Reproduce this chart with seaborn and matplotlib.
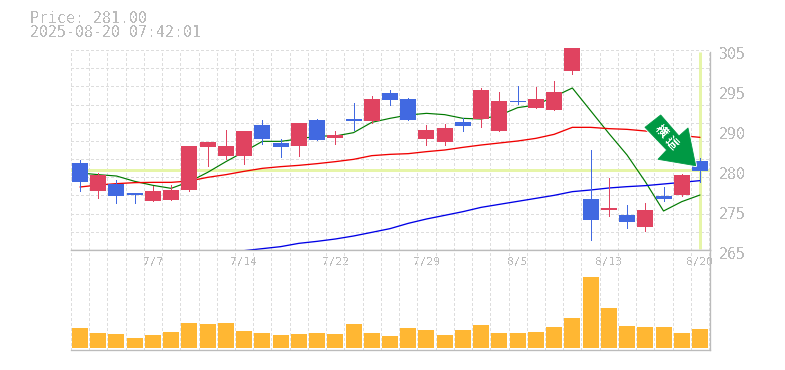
import numpy as np
import pandas as pd
import seaborn as sns
import matplotlib
matplotlib.use("Agg")
import matplotlib.pyplot as plt
from matplotlib.patches import Polygon
from matplotlib.transforms import ScaledTranslation, Affine2D

W, H = 785, 370
FONT = "DejaVu Sans Mono"
GREY = "#bbbbbb"
GRID = "#dddddd"
UP = "#e04360"
DOWN = "#4169e1"


def p(v):
    return [round(307 - a / 15, 2) if a is not None else np.nan for a in v]


# Price series
opens = p([369, 453, 432, 459, 483, 480, 450, 321, 348, 348, 255, 309, 318, 240, 294, 237, 243,
           159, 177, 297, 306, 246, 237, 273, 183, 204, 210, 93, 477, 510, 525, 561, 468, 465, 363])
closes = p([426, 405, 468, 465, 453, 450, 318, 306, 318, 273, 297, 321, 249, 300, 285, 243, 177,
            180, 240, 270, 264, 258, 150, 183, 186, 177, 156, -60, 540, 504, 546, 510, 477, 405, 393])
highs = p([360, 399, 420, 459, 438, 435, 318, 306, 270, 273, 240, 297, 249, 237, 273, 189, 168,
           150, 174, 255, 252, 234, 144, 156, 138, 141, 123, -60, 330, 414, 495, 489, 441, 402, 354])
lows = p([453, 474, 489, 489, 483, 480, 453, 378, 358, 372, 312, 351, 348, 300, 312, 270, 250,
          195, 240, 315, 315, 273, 261, 273, 192, 204, 210, 102, 600, 528, 564, 573, 483, 468, 426])
ma_short = p([399, 404, 408, 424, 436, 445, 425, 397, 365, 335, 304, 304, 297, 288, 288, 278, 247, 235,
              225, 220, 224, 235, 237, 226, 203, 195, 170, 144, 212, 280, 345, 425, 513, 485, 465])
ma_mid = p([441, 435, 431, 428, 427, 427, 423, 412, 404, 394, 385, 380, 376, 371, 365, 358, 347, 343,
            341, 335, 330, 322, 315, 309, 303, 295, 283, 262, 262, 266, 268, 273, 280, 287, 292])
ma_long = p([None] * 9 + [632, 626, 620, 610, 604, 597, 588, 577, 566,
                          550, 537, 526, 515, 502, 493, 484, 475, 466, 455, 450, 444, 440, 437, 432, 427, 422])
volumes = [20, 15, 14, 10, 13, 16, 25, 24, 25, 17, 15, 13, 14, 15, 14, 24, 15, 12,
           20, 18, 13, 18, 23, 15, 15, 16, 21, 30, 71, 40, 22, 21, 21, 15, 19]
last_price = 281.0
ytick_values = [305, 297, 289, 281, 273, 265]
ytick_labels = ["305", "295", "290", "280", "275", "265"]
xtick_positions = [4, 9, 14, 19, 24, 29, 34]
xtick_labels = ["7/7", "7/14", "7/22", "7/29", "8/5", "8/13", "8/20"]
title_lines = ["Price: 281.00", "2025-08-20 07:42:01"]
arrow_text = "横這"

sns.set_theme(style="white")
plt.rcParams["font.family"] = [FONT, "Noto Sans CJK JP", "DejaVu Sans"]
plt.rcParams["text.antialiased"] = False

idx = np.arange(len(opens))
df = pd.DataFrame(dict(i=idx, short=ma_short, mid=ma_mid, long=ma_long, vol=volumes))

fig = plt.figure(figsize=(W / 100, H / 100), dpi=100, facecolor="white")
L, R = 70.9, 710.2


def axes_px(top, bottom):
    return fig.add_axes([L / W, 1 - bottom / H, (R - L) / W, (bottom - top) / H], facecolor="white")


ax = axes_px(48, 250)
vx = axes_px(250, 350)
XLIM = (-0.5, 34.56)

# price panel
ax.set_xlim(*XLIM)
ax.set_ylim(265, 305.4)
grid_y = 265 + np.arange(12) * 40 / 11
grid_x = np.arange(-0.5, 35)
dash = (0, (4, 4))
ax.hlines(grid_y, -0.5, 34.5, color=GRID, lw=0.5, ls=dash, zorder=1, antialiased=False)
ax.vlines(grid_x, 265, 304.6, color=GRID, lw=0.5, ls=dash, zorder=1, antialiased=False)

ax.axhline(last_price, color="#e6f5a8", lw=2.16, zorder=2, snap=True)
ax.plot([34, 34], [265.3, 304.6], color="#e6f5a8", lw=2.16, zorder=2, solid_capstyle="butt", snap=True)

sns.lineplot(data=df, x="i", y="short", ax=ax, color="#007a00", lw=0.85, zorder=3, legend=False)
sns.lineplot(data=df, x="i", y="mid", ax=ax, color="#f00000", lw=0.95, zorder=3, legend=False)
sns.lineplot(data=df, x="i", y="long", ax=ax, color="#0000e6", lw=0.95, zorder=3, legend=False)

colors = [UP if c >= o else DOWN for o, c in zip(opens, closes)]
ax.vlines(idx, lows, highs, colors=colors, lw=0.72, zorder=4, antialiased=False)
ax.bar(idx, np.abs(np.array(closes) - np.array(opens)), bottom=np.minimum(opens, closes),
       width=0.877, color=colors, zorder=5, linewidth=0)

ax.set_xlabel("")
ax.set_ylabel("")
ax.set_xticks([])
ax.yaxis.tick_right()
ax.set_yticks(ytick_values, ytick_labels)
ax.tick_params(axis="y", length=0, pad=6.6, labelsize=10.8, labelcolor=GREY)
shift = ScaledTranslation(0, -3 / 72 * 0.72, fig.dpi_scale_trans)
for t in ax.get_yticklabels():
    t.set_transform(t.get_transform() + shift)
    t.set_family(FONT)
for s in ("top", "left"):
    ax.spines[s].set_visible(False)
for s in ("right", "bottom"):
    ax.spines[s].set_color(GREY)
    ax.spines[s].set_linewidth(0.95)
ax.spines["right"].set_bounds(265, 304.6)

# volume panel
vx.set_xlim(*XLIM)
vx.set_ylim(-2, 98)
vx.vlines(grid_x, -2, 98, color=GRID, lw=0.5, ls=dash, zorder=1, antialiased=False)
sns.barplot(data=df, x="i", y="vol", ax=vx, native_scale=True, color="#ffb733", width=0.877,
            saturation=1, linewidth=0, zorder=3)
vx.set_xlim(*XLIM)
vx.set_ylim(-2, 98)
vx.set_xlabel("")
vx.set_ylabel("")
vx.set_yticks([])
vx.xaxis.tick_top()
vx.set_xticks(xtick_positions, xtick_labels)
vx.tick_params(axis="x", length=0, pad=-12.5, labelsize=8.0, labelcolor=GREY)
for t in vx.get_xticklabels():
    t.set_family(FONT)
vx.spines["left"].set_visible(False)
for s in ("top", "right", "bottom"):
    vx.spines[s].set_color(GREY)
    vx.spines[s].set_linewidth(0.95)

# header
for line, y in zip(title_lines, (18.5, 32.5)):
    fig.text(30 / W, 1 - y / H, line, color=GREY, fontsize=10.7, family=FONT, va="center", ha="left")

# trend arrow badge, in figure pixels
px = Affine2D().scale(1 / W, -1 / H).translate(0, 1) + fig.transFigure
arrow_xy = [(645, 127.3), (660.7, 115), (679, 136), (688, 128), (695.7, 165.7), (658, 159.3), (666.7, 150)]
fig.add_artist(Polygon(arrow_xy, closed=True, transform=px, facecolor="#009944",
                       edgecolor="white", lw=2.0, joinstyle="round", zorder=10))
fig.add_artist(Polygon(arrow_xy, closed=True, transform=px, facecolor="#009944",
                       edgecolor="#009944", lw=0.6, joinstyle="round", zorder=11))
for ch, (cx, cy) in zip(arrow_text, [(661.5, 131.5), (671.5, 143)]):
    fig.text(cx / W, 1 - cy / H, ch, color="white", fontsize=8.8, rotation=-45, fontweight="bold",
             ha="center", va="center", family=["Noto Sans CJK JP"], zorder=12)

fig.savefig("out.png", dpi=100, facecolor="white")
